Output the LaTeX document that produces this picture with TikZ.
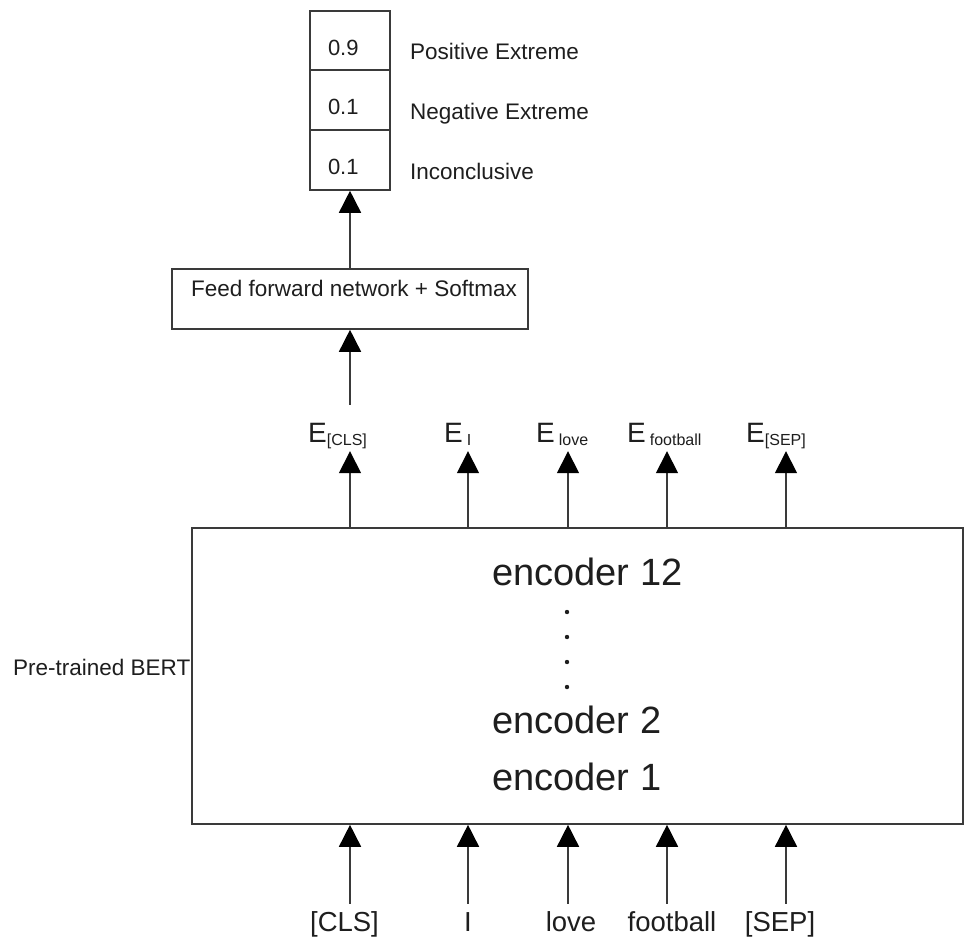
\documentclass[tikz,border=0pt]{standalone}
\usepackage{fontspec}
\setmainfont{Liberation Sans}
\usetikzlibrary{arrows.meta}
\definecolor{edge}{HTML}{3A3A3A}
\definecolor{ink}{HTML}{1E1E1E}
\newcommand\fs[1]{\fontsize{#1}{#1}\selectfont}
% embedding label: E with a lowered small subscript
\newcommand\Emb[2]{E\hspace{#1}\raisebox{-3pt}{\fs{16}#2}}

\begin{document}
\begin{tikzpicture}[x=1pt,y=-1pt,
  box/.style={draw=edge, line width=1.6pt, fill=white, inner sep=0pt, text=ink},
  cell/.style={box, minimum width=80pt, minimum height=60pt, text width=44pt,
               inner xsep=18pt, align=left, text height=28pt, text depth=0pt,
               font=\fs{22}},
  txt/.style={inner sep=0pt, text=ink},
  small/.style={txt, font=\fs{22.5}},
  emb/.style={txt, font=\fs{28}, anchor=base west, text height=37pt, text depth=9pt},
  tok/.style={txt, font=\fs{27.5}, anchor=base, text height=27pt},
  enc/.style={txt, font=\fs{38}, anchor=base west},
  arr/.style={draw=edge, line width=1.6pt, -{Triangle[width=22pt,length=22pt,color=black]}}]

\useasboundingbox (0,0) rectangle (966,937);
\fill[white] (0,0) rectangle (966,937);

% output probabilities
\node[cell] (o1) at (350,41)  {0.9};
\node[cell] (o2) at (350,100) {0.1};
\node[cell] (o3) at (350,160) {0.1};
\node[small, anchor=base west] (l1) at (410,59)  {Positive Extreme};
\node[small, anchor=base west] (l2) at (410,119) {Negative Extreme};
\node[small, anchor=base west] (l3) at (410,179) {Inconclusive};

% classification head
\node[box, minimum width=356pt, text height=27pt, text depth=33pt, inner ysep=0pt,
      font=\fs{22.5}] (ffn) at (350,299) {\hspace{8pt}Feed forward network + Softmax};

% BERT encoder stack
\node[box, minimum width=771pt, minimum height=296pt] (bert) at (577.5,676) {};
\node[small, anchor=base west] (pre) at (13,675) {Pre-trained BERT};
\node[enc] (enc12) at (492,585) {encoder 12};
\foreach \y in {612,637,662,687}
  \fill[ink] (567,\y) circle[radius=2.2pt];
\node[enc] (enc2) at (492,733) {encoder 2};
\node[enc] (enc1) at (492,790) {encoder 1};

% token columns
\coordinate (c1) at (350,0);
\coordinate (c2) at (468,0);
\coordinate (c3) at (568,0);
\coordinate (c4) at (667,0);
\coordinate (c5) at (786,0);

% output embeddings
\node[emb] (eCLS)  at (308,442) {\Emb{0pt}{[CLS]}};
\node[emb] (eI)    at (444,442) {\Emb{4pt}{I}};
\node[emb] (eLove) at (536,442) {\Emb{4pt}{love}};
\node[emb] (eFoot) at (627,442) {\Emb{4pt}{football}};
\node[emb] (eSEP)  at (746,442) {\Emb{0pt}{[SEP]}};

% input tokens
\node[tok] (tCLS)  at (344.5,931) {[CLS]};
\node[tok] (tI)    at (468,931)   {I};
\node[tok] (tLove) at (571,931)   {love};
\node[tok] (tFoot) at (672,931)   {football};
\node[tok] (tSEP)  at (780,931)   {[SEP]};

% connectors
\draw[arr] (ffn.north) -- (o3.south);
\draw[arr] (c1 |- eCLS.north) -- (ffn.south);
\foreach \c/\e in {c1/eCLS, c2/eI, c3/eLove, c4/eFoot, c5/eSEP}
  \draw[arr] (\c |- bert.north) -- (\c |- \e.south);
\foreach \c/\t in {c1/tCLS, c2/tI, c3/tLove, c4/tFoot, c5/tSEP}
  \draw[arr] (\c |- \t.north) -- (\c |- bert.south);
\end{tikzpicture}
\end{document}
